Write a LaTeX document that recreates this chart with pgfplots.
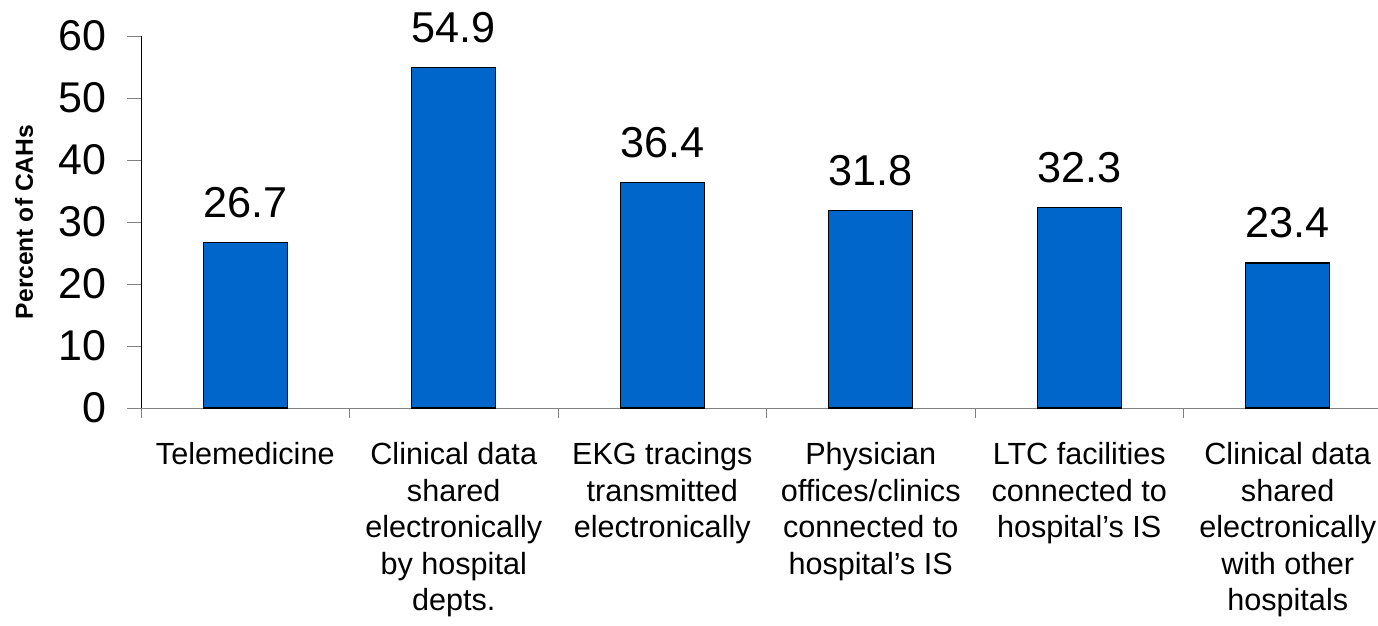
\documentclass[border=0pt]{standalone}
\usepackage{pgfplots}
\pgfplotsset{compat=1.18}
\usepackage{fontspec}
\setmainfont{Liberation Sans}
\definecolor{barblue}{RGB}{0,102,204}
\definecolor{axgray}{RGB}{128,128,128}
\begin{document}
\begin{tikzpicture}
\begin{axis}[
  at={(0,0)}, anchor=south west,
  scale only axis,
  width=618.5pt, height=186pt,
  xmin=-0.5, xmax=5.433,
  ymin=0, ymax=60,
  axis x line=bottom, axis y line=left,
  x axis line style={draw=axgray, -},
  y axis line style={draw=black, -},
  ytick={0,10,...,60},
  tick align=outside,
  major tick length=7pt,
  minor tick length=5pt,
  ytick style={draw=axgray},
  xtick={0,...,5},
  xtick style={draw=none},
  minor xtick={-0.5,0.5,...,4.5},
  minor x tick style={draw=axgray},
  xticklabels={Telemedicine,
    {Clinical data\\shared\\electronically\\by hospital\\depts.},
    {EKG tracings\\transmitted\\electronically},
    {Physician\\offices/clinics\\connected to\\hospital’s IS},
    {LTC facilities\\connected to\\hospital’s IS},
    {Clinical data\\shared\\electronically\\with other\\hospitals}},
  xticklabel style={align=center, font=\fontsize{15.3}{18.3}\selectfont, inner sep=0pt, yshift=-10pt},
  yticklabel style={font=\fontsize{21.5}{21.5}\selectfont, inner sep=0pt, xshift=-10pt},
  /pgf/number format/assume math mode=true,
  ylabel={\textbf{Percent of CAHs}},
  every axis y label/.style={at={(axis description cs:0,0.5)}, xshift=-58.5pt, rotate=90, anchor=center, font=\fontsize{12.3}{14}\selectfont},
  ybar, bar width=42pt,
  nodes near coords,
  every node near coord/.append style={font=\fontsize{21.6}{21.6}\selectfont, inner sep=0pt, yshift=12pt, black},
  clip=false,
]
\addplot[fill=barblue, draw=black, line width=0.6pt] coordinates {(0,26.7) (1,54.9) (2,36.4) (3,31.8) (4,32.3) (5,23.4)};
\end{axis}
\pgfresetboundingbox
\path[use as bounding box] (-70.5pt,-109pt) rectangle (618.5pt,204pt);
\end{tikzpicture}
\end{document}
